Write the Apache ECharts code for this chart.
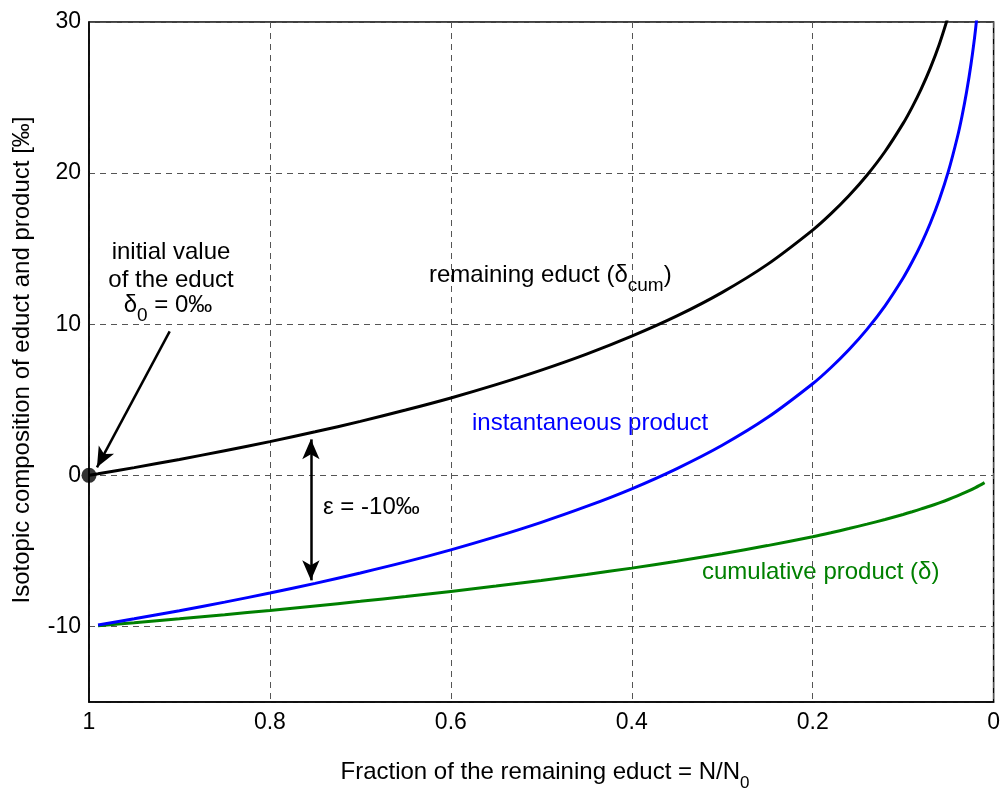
<!DOCTYPE html>
<html>
<head>
<meta charset="utf-8">
<script src="https://cdn.jsdelivr.net/npm/echarts@6/dist/echarts.min.js"></script>
<style>
  html, body { margin: 0; padding: 0; background: #fff; }
  #chart { width: 1003px; height: 792px; }
</style>
</head>
<body>
<div id="chart"></div>
<script>
// Rayleigh fractionation: isotopic composition (‰) vs. remaining fraction N/N0
const fracEduct = [1, 0.99, 0.95, 0.9, 0.85, 0.8, 0.75, 0.7, 0.65, 0.6, 0.55, 0.5, 0.45, 0.4, 0.35, 0.3, 0.25, 0.2, 0.18, 0.16, 0.14, 0.12, 0.1, 0.09, 0.08, 0.07, 0.06, 0.05];
const remainingEduct = [0, 0.10, 0.51, 1.05, 1.63, 2.23, 2.88, 3.57, 4.32, 5.12, 6.00, 6.96, 8.02, 9.21, 10.55, 12.11, 13.96, 16.23, 17.30, 18.50, 19.86, 21.43, 23.29, 24.37, 25.58, 26.95, 28.53, 30.41];

const fracInst = [0.99, 0.95, 0.9, 0.85, 0.8, 0.75, 0.7, 0.65, 0.6, 0.55, 0.5, 0.45, 0.4, 0.35, 0.3, 0.25, 0.2, 0.18, 0.16, 0.14, 0.12, 0.1, 0.09, 0.08, 0.07, 0.06, 0.05, 0.04, 0.035, 0.03, 0.025, 0.02, 0.015];
const instantaneousProduct = [-9.90, -9.49, -8.96, -8.39, -7.79, -7.15, -6.46, -5.73, -4.93, -4.06, -3.11, -2.06, -0.89, 0.45, 1.99, 3.82, 6.06, 7.12, 8.31, 9.66, 11.22, 13.06, 14.13, 15.32, 16.68, 18.25, 20.11, 22.39, 23.75, 25.33, 27.20, 29.50, 32.46];

const fracCum = [0.99, 0.95, 0.9, 0.85, 0.8, 0.75, 0.7, 0.65, 0.6, 0.55, 0.5, 0.45, 0.4, 0.35, 0.3, 0.25, 0.2, 0.18, 0.16, 0.14, 0.12, 0.1, 0.09, 0.08, 0.07, 0.06, 0.05, 0.04, 0.03, 0.02, 0.01];
const cumulativeProduct = [-9.95, -9.75, -9.49, -9.22, -8.94, -8.64, -8.34, -8.02, -7.68, -7.33, -6.96, -6.56, -6.14, -5.68, -5.19, -4.65, -4.06, -3.80, -3.52, -3.23, -2.92, -2.59, -2.41, -2.22, -2.03, -1.82, -1.60, -1.36, -1.10, -0.81, -0.48];

const xTicks = [1, 0.8, 0.6, 0.4, 0.2, 0];
const yTicks = [-10, 0, 10, 20, 30];

// initial educt value and the ε = -10‰ offset marker
const initialPoint = [1, 0];
const epsilonArrow = [[0.7547, 2.38], [0.7547, -6.95]];
const initialArrow = [[0.9108, 9.53], [0.9912, 0.53]];

const FONT = 'Liberation Sans, Arial, sans-serif';
const zip = (xs, ys) => xs.map((x, i) => [x, ys[i]]);

const subRich = (color) => ({
  m: { fontSize: 24, lineHeight: 40, color: color, fontFamily: FONT },
  s: { fontSize: 19, lineHeight: 19, verticalAlign: 'bottom', color: color, fontFamily: FONT }
});

const chart = echarts.init(document.getElementById('chart'), null, { renderer: 'canvas' });

const gridDash = { color: '#555', width: 1, type: [6, 5] };

chart.setOption({
  animation: false,
  backgroundColor: '#fff',
  grid: { left: 89, right: 6, top: 22, bottom: 90, show: true, borderColor: '#000', borderWidth: 1.5 },
  xAxis: {
    type: 'value', inverse: true, min: 0, max: 1, interval: 0.2,
    axisLine: { show: true, onZero: false, lineStyle: { color: '#000', width: 1.5 } },
    axisTick: { show: false },
    axisLabel: { fontSize: 23, color: '#000', fontFamily: FONT, margin: 9,
      formatter: (v) => xTicks.some(t => Math.abs(t - v) < 1e-9) ? String(+v.toFixed(1)) : '' },
    splitLine: { show: true, lineStyle: gridDash }
  },
  yAxis: {
    type: 'value', min: -15, max: 30, splitNumber: 5,
    axisLine: { show: true, onZero: false, lineStyle: { color: '#000', width: 1.5 } },
    axisTick: { show: false },
    axisLabel: { fontSize: 23, color: '#000', fontFamily: FONT, margin: 8,
      formatter: (v) => yTicks.includes(v) ? String(v) : '' },
    splitLine: { show: true, lineStyle: gridDash }
  },
  graphic: [
    { type: 'text', x: 22, y: 360, rotation: Math.PI / 2,
      style: { text: 'Isotopic composition of educt and product [‰]', fontSize: 24, fontFamily: FONT,
        fill: '#000', textAlign: 'center', textVerticalAlign: 'middle' } },
    { type: 'text', x: 545, y: 772,
      style: { text: '{m|Fraction of the remaining educt = N/N}{s|0}', rich: {
          m: { fontSize: 24, lineHeight: 40, fontFamily: FONT, fill: '#000' },
          s: { fontSize: 17, lineHeight: 17, verticalAlign: 'bottom', fontFamily: FONT, fill: '#000' } },
        textAlign: 'center', textVerticalAlign: 'middle' } },
    { type: 'text', x: 171, y: 252,
      style: { text: 'initial value', fontSize: 24, fontFamily: FONT, fill: '#000', textAlign: 'center', textVerticalAlign: 'middle' } },
    { type: 'text', x: 171, y: 280,
      style: { text: 'of the educt', fontSize: 24, fontFamily: FONT, fill: '#000', textAlign: 'center', textVerticalAlign: 'middle' } },
    { type: 'text', x: 168, y: 305,
      style: { text: '{m|δ}{s|0}{m| = 0‰}', rich: subRich('#000'), textAlign: 'center', textVerticalAlign: 'middle' } },
    { type: 'text', x: 429, y: 275,
      style: { text: '{m|remaining educt (δ}{s|cum}{m|)}', rich: subRich('#000'), textAlign: 'left', textVerticalAlign: 'middle' } },
    { type: 'text', x: 472, y: 423,
      style: { text: 'instantaneous product', fontSize: 24, fontFamily: FONT, fill: '#0000ff', textAlign: 'left', textVerticalAlign: 'middle' } },
    { type: 'text', x: 323, y: 507,
      style: { text: 'ε = -10‰', fontSize: 24, fontFamily: FONT, fill: '#000', textAlign: 'left', textVerticalAlign: 'middle' } },
    { type: 'text', x: 702, y: 572,
      style: { text: 'cumulative product (δ)', fontSize: 24, fontFamily: FONT, fill: '#008000', textAlign: 'left', textVerticalAlign: 'middle' } }
  ],
  series: [
    {
      name: 'cumulative product', type: 'line', data: zip(fracCum, cumulativeProduct),
      showSymbol: false, smooth: 0.3,
      lineStyle: { color: '#008000', width: 3 }, itemStyle: { color: '#008000' }
    },
    {
      name: 'instantaneous product', type: 'line', data: zip(fracInst, instantaneousProduct),
      showSymbol: false, smooth: 0.3,
      lineStyle: { color: '#0000ff', width: 3 }, itemStyle: { color: '#0000ff' }
    },
    {
      name: 'remaining educt', type: 'line', data: zip(fracEduct, remainingEduct),
      showSymbol: false, smooth: 0.3,
      lineStyle: { color: '#000', width: 3 }, itemStyle: { color: '#000' },
      markLine: {
        silent: true, animation: false,
        label: { show: false },
        lineStyle: { color: '#000', width: 2.5, type: 'solid' },
        symbolSize: [13, 20],
        data: [
          [{ coord: initialArrow[0], symbol: 'none' }, { coord: initialArrow[1], symbol: 'arrow' }],
          [{ coord: epsilonArrow[0], symbol: 'arrow' }, { coord: epsilonArrow[1], symbol: 'arrow' }]
        ]
      }
    },
    {
      name: 'initial value', type: 'scatter', data: [initialPoint],
      symbolSize: 15, itemStyle: { color: '#000' }, z: 5
    }
  ]
});
</script>
</body>
</html>
